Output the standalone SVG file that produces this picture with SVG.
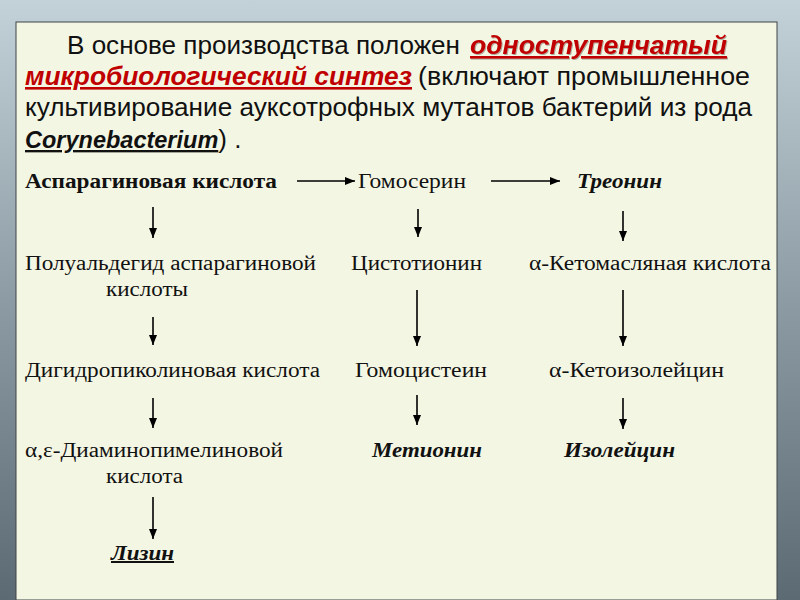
<svg xmlns="http://www.w3.org/2000/svg" width="800" height="600" viewBox="0 0 800 600">
<defs>
<linearGradient id="bg" x1="0" y1="0" x2="0" y2="1">
<stop offset="0" stop-color="#c3d1d8"/>
<stop offset="0.5" stop-color="#8d9ca4"/>
<stop offset="1" stop-color="#5c6b73"/>
</linearGradient>
<marker id="ah" viewBox="0 0 10 10" refX="10" refY="5" markerWidth="10" markerHeight="10" markerUnits="userSpaceOnUse" orient="auto">
<path d="M0,1 L10,5 L0,9 Z" fill="#000"/>
</marker>
<filter id="sh" x="-5%" y="-20%" width="110%" height="140%">
<feDropShadow dx="1" dy="1" stdDeviation="0.6" flood-color="#000" flood-opacity="0.3"/>
</filter>
</defs>
<style>
.hd{font-family:"Liberation Sans Narrow","Liberation Sans",Arial,sans-serif;font-size:26px;fill:#111;}
.red{font-weight:bold;font-style:italic;fill:#c00000;text-decoration:underline;}
.cor{font-weight:bold;font-style:italic;fill:#111;text-decoration:underline;}
.t{font-family:"Liberation Serif","Times New Roman",serif;font-size:20px;fill:#111;}
.b{font-weight:bold;}
.bi{font-weight:bold;font-style:italic;}
.conn line{stroke:#000;stroke-width:1.6;marker-end:url(#ah);}
</style>
<rect x="0" y="0" width="800" height="600" fill="url(#bg)"/>
<rect x="16" y="22" width="761" height="578" fill="#f4f6e4" stroke="#3c4448" stroke-width="1"/>

<g id="header">
<text class="hd" y="54"><tspan x="67" textLength="393" lengthAdjust="spacingAndGlyphs">В основе производства положен</tspan><tspan class="red" x="470" textLength="257" lengthAdjust="spacingAndGlyphs" filter="url(#sh)">одноступенчатый</tspan></text>
<text class="hd" y="85"><tspan class="red" x="25" textLength="387" lengthAdjust="spacingAndGlyphs">микробиологический синтез</tspan><tspan x="418" textLength="332" lengthAdjust="spacingAndGlyphs">(включают промышленное</tspan></text>
<text class="hd" y="116"><tspan x="25" textLength="727" lengthAdjust="spacingAndGlyphs">культивирование ауксотрофных мутантов бактерий из рода</tspan></text>
<text class="hd" x="25" y="148"><tspan class="cor" style="font-size:23.5px">Corynebacterium</tspan><tspan>) .</tspan></text>
</g>

<g id="n-asp"><text class="t b" x="25" y="188" textLength="252" lengthAdjust="spacingAndGlyphs">Аспарагиновая кислота</text></g>
<g id="n-homoserine"><text class="t" x="358" y="188" textLength="108" lengthAdjust="spacingAndGlyphs">Гомосерин</text></g>
<g id="n-threonine"><text class="t bi" x="577" y="188" textLength="85" lengthAdjust="spacingAndGlyphs">Треонин</text></g>

<g id="n-semialdehyde">
<text class="t" x="25" y="270" textLength="291" lengthAdjust="spacingAndGlyphs">Полуальдегид аспарагиновой</text>
<text class="t" x="106" y="296" textLength="82" lengthAdjust="spacingAndGlyphs">кислоты</text>
</g>
<g id="n-cystathionine"><text class="t" x="351" y="270" textLength="131" lengthAdjust="spacingAndGlyphs">Цистотионин</text></g>
<g id="n-ketobutyrate"><text class="t" x="529" y="270" textLength="242" lengthAdjust="spacingAndGlyphs">α-Кетомасляная кислота</text></g>

<g id="n-dhp"><text class="t" x="25" y="377" textLength="295" lengthAdjust="spacingAndGlyphs">Дигидропиколиновая кислота</text></g>
<g id="n-homocysteine"><text class="t" x="355" y="377" textLength="132" lengthAdjust="spacingAndGlyphs">Гомоцистеин</text></g>
<g id="n-ketoisoleucine"><text class="t" x="549" y="377" textLength="175" lengthAdjust="spacingAndGlyphs">α-Кетоизолейцин</text></g>

<g id="n-dap">
<text class="t" x="25" y="457" textLength="258" lengthAdjust="spacingAndGlyphs">α,ε-Диаминопимелиновой</text>
<text class="t" x="106" y="483" textLength="77" lengthAdjust="spacingAndGlyphs">кислота</text>
</g>
<g id="n-methionine"><text class="t bi" x="372" y="457" textLength="110" lengthAdjust="spacingAndGlyphs">Метионин</text></g>
<g id="n-isoleucine"><text class="t bi" x="564" y="457" textLength="111" lengthAdjust="spacingAndGlyphs">Изолейцин</text></g>

<g id="n-lysine"><text class="t bi" x="111" y="560" textLength="63" lengthAdjust="spacingAndGlyphs" text-decoration="underline">Лизин</text></g>

<g id="connectors" class="conn">
<line x1="297" y1="181" x2="355" y2="181"/>
<line x1="491" y1="181" x2="560" y2="181"/>
<line x1="153" y1="207" x2="153" y2="238"/>
<line x1="418" y1="209" x2="418" y2="237"/>
<line x1="623" y1="211" x2="623" y2="241"/>
<line x1="153" y1="317" x2="153" y2="345"/>
<line x1="417" y1="290" x2="417" y2="346"/>
<line x1="623" y1="290" x2="623" y2="346"/>
<line x1="153" y1="398" x2="153" y2="428"/>
<line x1="417" y1="395" x2="417" y2="425"/>
<line x1="623" y1="398" x2="623" y2="429"/>
<line x1="153" y1="497" x2="153" y2="539"/>
</g>
</svg>
